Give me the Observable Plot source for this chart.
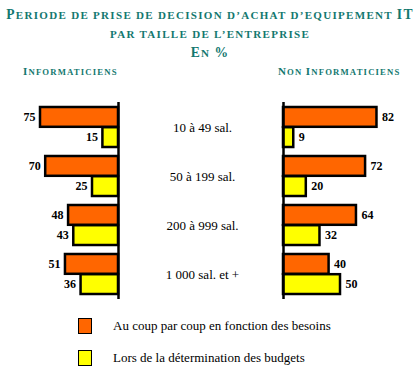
<!DOCTYPE html>
<html>
<head>
<meta charset="utf-8">
<script src="https://cdn.jsdelivr.net/npm/d3@7"></script>
<script src="https://cdn.jsdelivr.net/npm/@observablehq/plot@0.6"></script>
<style>
  html, body { margin: 0; padding: 0; background: #fff; }
  #root { position: relative; width: 420px; height: 372px; overflow: hidden; font-family: "Liberation Serif", "Times New Roman", serif; }
  .title { position: absolute; left: 0; width: 420px; text-align: center; color: #13786f; font-weight: bold; top: 4px; letter-spacing: 1.3px; }
  .title div { height: 19px; line-height: 19px; white-space: nowrap; }
  .head { position: absolute; top: 62px; color: #13786f; font-weight: bold; white-space: nowrap; line-height: 16px; letter-spacing: 1.15px; }
  .panel { position: absolute; top: 92px; }
  .legend { position: absolute; left: 78px; top: 318px; font-size: 13px; color: #000; }
  .legend .item { position: relative; height: 32px; }
  .legend .sw { position: absolute; left: 0; top: 0; width: 12px; height: 14px; border: 1.5px solid #000; }
  .legend .lb { position: absolute; left: 35px; top: 0px; white-space: nowrap; }
</style>
</head>
<body>
<div id="root">
  <div class="title">
    <div class="sc" data-big="13.6" data-small="11">Periode de prise de decision d’achat d’equipement IT</div>
    <div class="sc" data-big="13.6" data-small="11">par taille de l’entreprise</div>
    <div class="sc" data-big="13.6" data-small="11">En %</div>
  </div>
  <div class="head sc" data-big="11" data-small="8.7" style="left:23px">Informaticiens</div>
  <div class="head sc" data-big="11" data-small="8.7" style="left:278px">Non Informaticiens</div>
  <div class="panel" id="left" style="left:0px"></div>
  <div class="panel" id="right" style="left:250px"></div>
  <div class="legend" id="legend"></div>
</div>
<script>
const categories = ["10 à 49 sal.", "50 à 199 sal.", "200 à 999 sal.", "1 000 sal. et +"];
const series = ["Au coup par coup en fonction des besoins", "Lors de la détermination des budgets"];
const colors = ["#FF6600", "#FFFF00"];
const infoCoup = [75, 70, 48, 51];
const infoBudget = [15, 25, 43, 36];
const nonInfoCoup = [82, 72, 64, 40];
const nonInfoBudget = [9, 20, 32, 50];

// small caps rendering for headings (real text kept, only sized per letter)
document.querySelectorAll(".sc").forEach(el => {
  const big = el.dataset.big, small = el.dataset.small;
  const txt = el.textContent;
  el.textContent = "";
  for (const ch of txt) {
    const span = document.createElement("span");
    const isUpper = ch !== ch.toLowerCase();
    span.style.fontSize = (isUpper || /[0-9%]/.test(ch) ? big : small) + "px";
    span.textContent = ch.toUpperCase();
    el.appendChild(span);
  }
});

function rows(a, b) {
  const out = [];
  categories.forEach((c, i) => {
    out.push({cat: c, series: series[0], value: a[i]});
    out.push({cat: c, series: series[1], value: b[i]});
  });
  return out;
}
const leftRows = rows(infoCoup, infoBudget);
const rightRows = rows(nonInfoCoup, nonInfoBudget);

const H = 209;
const font = "Liberation Serif";
const yScale = {domain: categories, paddingInner: 0.18, paddingOuter: 0.09};
const colorScale = {domain: series, range: colors};

function panelMarks(data, side) {
  const isLeft = side === "left";
  const s0 = data.filter(d => d.series === series[0]);
  const s1 = data.filter(d => d.series === series[1]);
  const lab = {text: "value", fontWeight: "bold", fontSize: 12, fontFamily: font, fill: "#000",
    textAnchor: isLeft ? "end" : "start", dx: isLeft ? -5 : 5};
  return [
    Plot.barX(s0, {x: "value", y: "cat", fill: "series", stroke: "#000", strokeWidth: 2.5, insetBottom: 20.2}),
    Plot.barX(s1, {x: "value", y: "cat", fill: "series", stroke: "#000", strokeWidth: 2.5, insetTop: 20.2}),
    Plot.text(s0, {x: "value", y: "cat", dy: -10, ...lab}),
    Plot.text(s1, {x: "value", y: "cat", dy: 10, ...lab}),
    Plot.ruleX([0], {stroke: "#000", strokeWidth: 2.5})
  ];
}

const leftPlot = Plot.plot({
  width: 250, height: H, marginTop: 10, marginBottom: 2, marginLeft: 0, marginRight: 132,
  style: {fontFamily: font, background: "transparent", overflow: "visible"},
  x: {domain: [0, 100], range: [118, 14], axis: null},
  y: {...yScale, axis: null},
  color: colorScale,
  marks: [
    ...panelMarks(leftRows, "left"),
    Plot.axisY({anchor: "right", tickSize: 0, tickPadding: 84, textAnchor: "middle", fontSize: 13, fontFamily: font, label: null, fill: "#000"})
  ]
});

const rightPlot = Plot.plot({
  width: 170, height: H, marginTop: 10, marginBottom: 2, marginLeft: 33, marginRight: 0,
  style: {fontFamily: font, background: "transparent", overflow: "visible"},
  x: {domain: [0, 100], range: [33, 147], axis: null},
  y: {...yScale, axis: null},
  color: colorScale,
  marks: panelMarks(rightRows, "right")
});

document.getElementById("left").appendChild(leftPlot);
document.getElementById("right").appendChild(rightPlot);

const leg = document.getElementById("legend");
series.forEach((s, i) => {
  const item = document.createElement("div");
  item.className = "item";
  const sw = document.createElement("div");
  sw.className = "sw";
  sw.style.background = colors[i];
  const lb = document.createElement("div");
  lb.className = "lb";
  lb.textContent = s;
  item.appendChild(sw);
  item.appendChild(lb);
  leg.appendChild(item);
});
</script>
</body>
</html>
